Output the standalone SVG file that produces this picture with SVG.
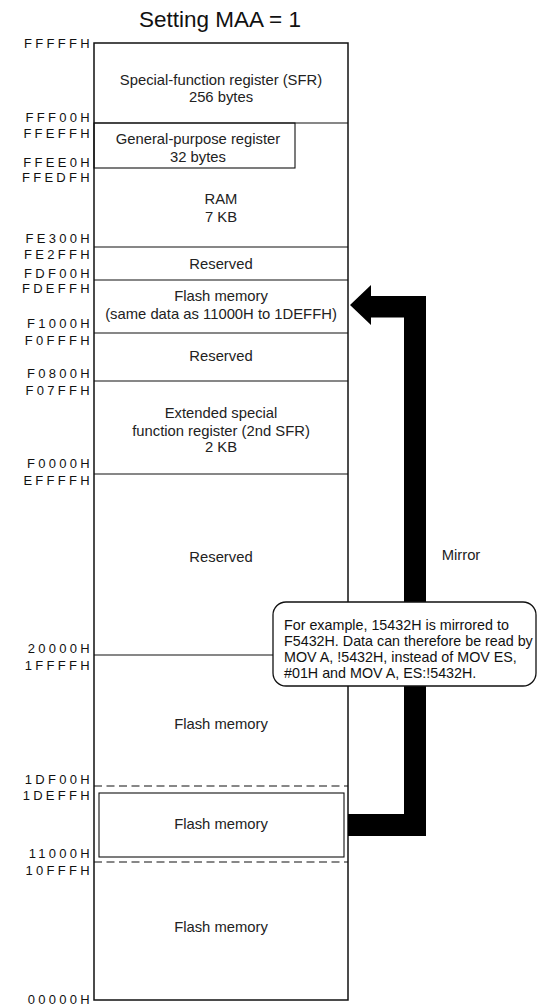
<svg xmlns="http://www.w3.org/2000/svg" width="541" height="1007" viewBox="0 0 541 1007">
<style>
.t{font-family:"Liberation Sans",Arial,sans-serif;font-size:14.8px;fill:#222;text-anchor:middle}
.c{font-family:"Liberation Sans",Arial,sans-serif;font-size:14.3px;fill:#111}
.a{font-family:"Liberation Sans",Arial,sans-serif;font-size:13px;fill:#111;text-anchor:end;letter-spacing:3.3px}
.ln{stroke:#111;stroke-width:1.1;fill:none}
.dash{stroke:#111;stroke-width:1.2;fill:none;stroke-dasharray:8 4.5}
</style>
<rect width="541" height="1007" fill="#fff"/>
<text x="220" y="27" font-family="'Liberation Sans',Arial,sans-serif" font-size="22.5" fill="#111" text-anchor="middle">Setting MAA = 1</text>

<g id="addresses">
<text class="a" x="93" y="47.7">FFFFFH</text>
<text class="a" x="93" y="122">FFF00H</text>
<text class="a" x="93" y="138">FFEFFH</text>
<text class="a" x="93" y="166.7">FFEE0H</text>
<text class="a" x="93" y="182.3">FFEDFH</text>
<text class="a" x="93" y="242.7">FE300H</text>
<text class="a" x="93" y="259.3">FE2FFH</text>
<text class="a" x="93" y="278.3">FDF00H</text>
<text class="a" x="93" y="293.3">FDEFFH</text>
<text class="a" x="93" y="328.3">F1000H</text>
<text class="a" x="93" y="345">F0FFFH</text>
<text class="a" x="93" y="377.7">F0800H</text>
<text class="a" x="93" y="395">F07FFH</text>
<text class="a" x="93" y="468.3">F0000H</text>
<text class="a" x="93" y="485">EFFFFH</text>
<text class="a" x="93" y="653.3">20000H</text>
<text class="a" x="93" y="670">1FFFFH</text>
<text class="a" x="93" y="784">1DF00H</text>
<text class="a" x="93" y="800">1DEFFH</text>
<text class="a" x="93" y="858.3">11000H</text>
<text class="a" x="93" y="875">10FFFH</text>
<text class="a" x="93" y="1004">00000H</text>
</g>

<g id="memory-map">
<rect x="94" y="43" width="254" height="957" fill="#fff" stroke="#111" stroke-width="1.5"/>
</g>

<g id="sfr">
<line class="ln" x1="94" y1="123" x2="348" y2="123"/>
<text class="t" x="221" y="85.3">Special-function register (SFR)</text>
<text class="t" x="221" y="101.7">256 bytes</text>
</g>
<g id="gpr">
<rect x="94" y="123" width="201" height="45" class="ln"/>
<text class="t" x="198" y="144">General-purpose register</text>
<text class="t" x="198" y="161.7">32 bytes</text>
</g>
<g id="ram">
<line class="ln" x1="94" y1="247" x2="348" y2="247"/>
<text class="t" x="221" y="204">RAM</text>
<text class="t" x="221" y="221.7">7 KB</text>
</g>
<g id="reserved1">
<line class="ln" x1="94" y1="280" x2="348" y2="280"/>
<text class="t" x="221" y="269">Reserved</text>
</g>
<g id="flash-mirror">
<line class="ln" x1="94" y1="333" x2="348" y2="333"/>
<text class="t" x="221" y="301">Flash memory</text>
<text class="t" x="221" y="319">(same data as 11000H to 1DEFFH)</text>
</g>
<g id="reserved2">
<line class="ln" x1="94" y1="381" x2="348" y2="381"/>
<text class="t" x="221" y="360.7">Reserved</text>
</g>
<g id="sfr2">
<line class="ln" x1="94" y1="474" x2="348" y2="474"/>
<text class="t" x="221" y="417.7">Extended special</text>
<text class="t" x="221" y="435.7">function register (2nd SFR)</text>
<text class="t" x="221" y="452.3">2 KB</text>
</g>
<g id="reserved3">
<line class="ln" x1="94" y1="655" x2="348" y2="655"/>
<text class="t" x="221" y="562">Reserved</text>
</g>
<g id="flash-top">
<line class="dash" x1="94" y1="786" x2="348" y2="786"/>
<text class="t" x="221" y="729.3">Flash memory</text>
</g>
<g id="flash-mid">
<rect x="99" y="793" width="245" height="64" class="ln"/>
<text class="t" x="221" y="829.3">Flash memory</text>
</g>
<g id="flash-bottom">
<line class="dash" x1="94" y1="862" x2="348" y2="862"/>
<text class="t" x="221" y="931.7">Flash memory</text>
</g>

<g id="connectors">
<polygon fill="#000" points="350,305 371,285 371,296 426,296 426,836 348,836 348,814 404,814 404,317.5 371,317.5 371,325"/>
<text class="t" x="461" y="560">Mirror</text>
</g>

<g id="callout">
<rect x="273" y="602" width="263" height="84" rx="13" ry="13" fill="#fff" stroke="#111" stroke-width="1.3"/>
<text class="c" x="284" y="630">For example, 15432H is mirrored to</text>
<text class="c" x="284" y="646">F5432H. Data can therefore be read by</text>
<text class="c" x="284" y="662">MOV A, !5432H, instead of MOV ES,</text>
<text class="c" x="284" y="677.5">#01H and MOV A, ES:!5432H.</text>
</g>
</svg>
